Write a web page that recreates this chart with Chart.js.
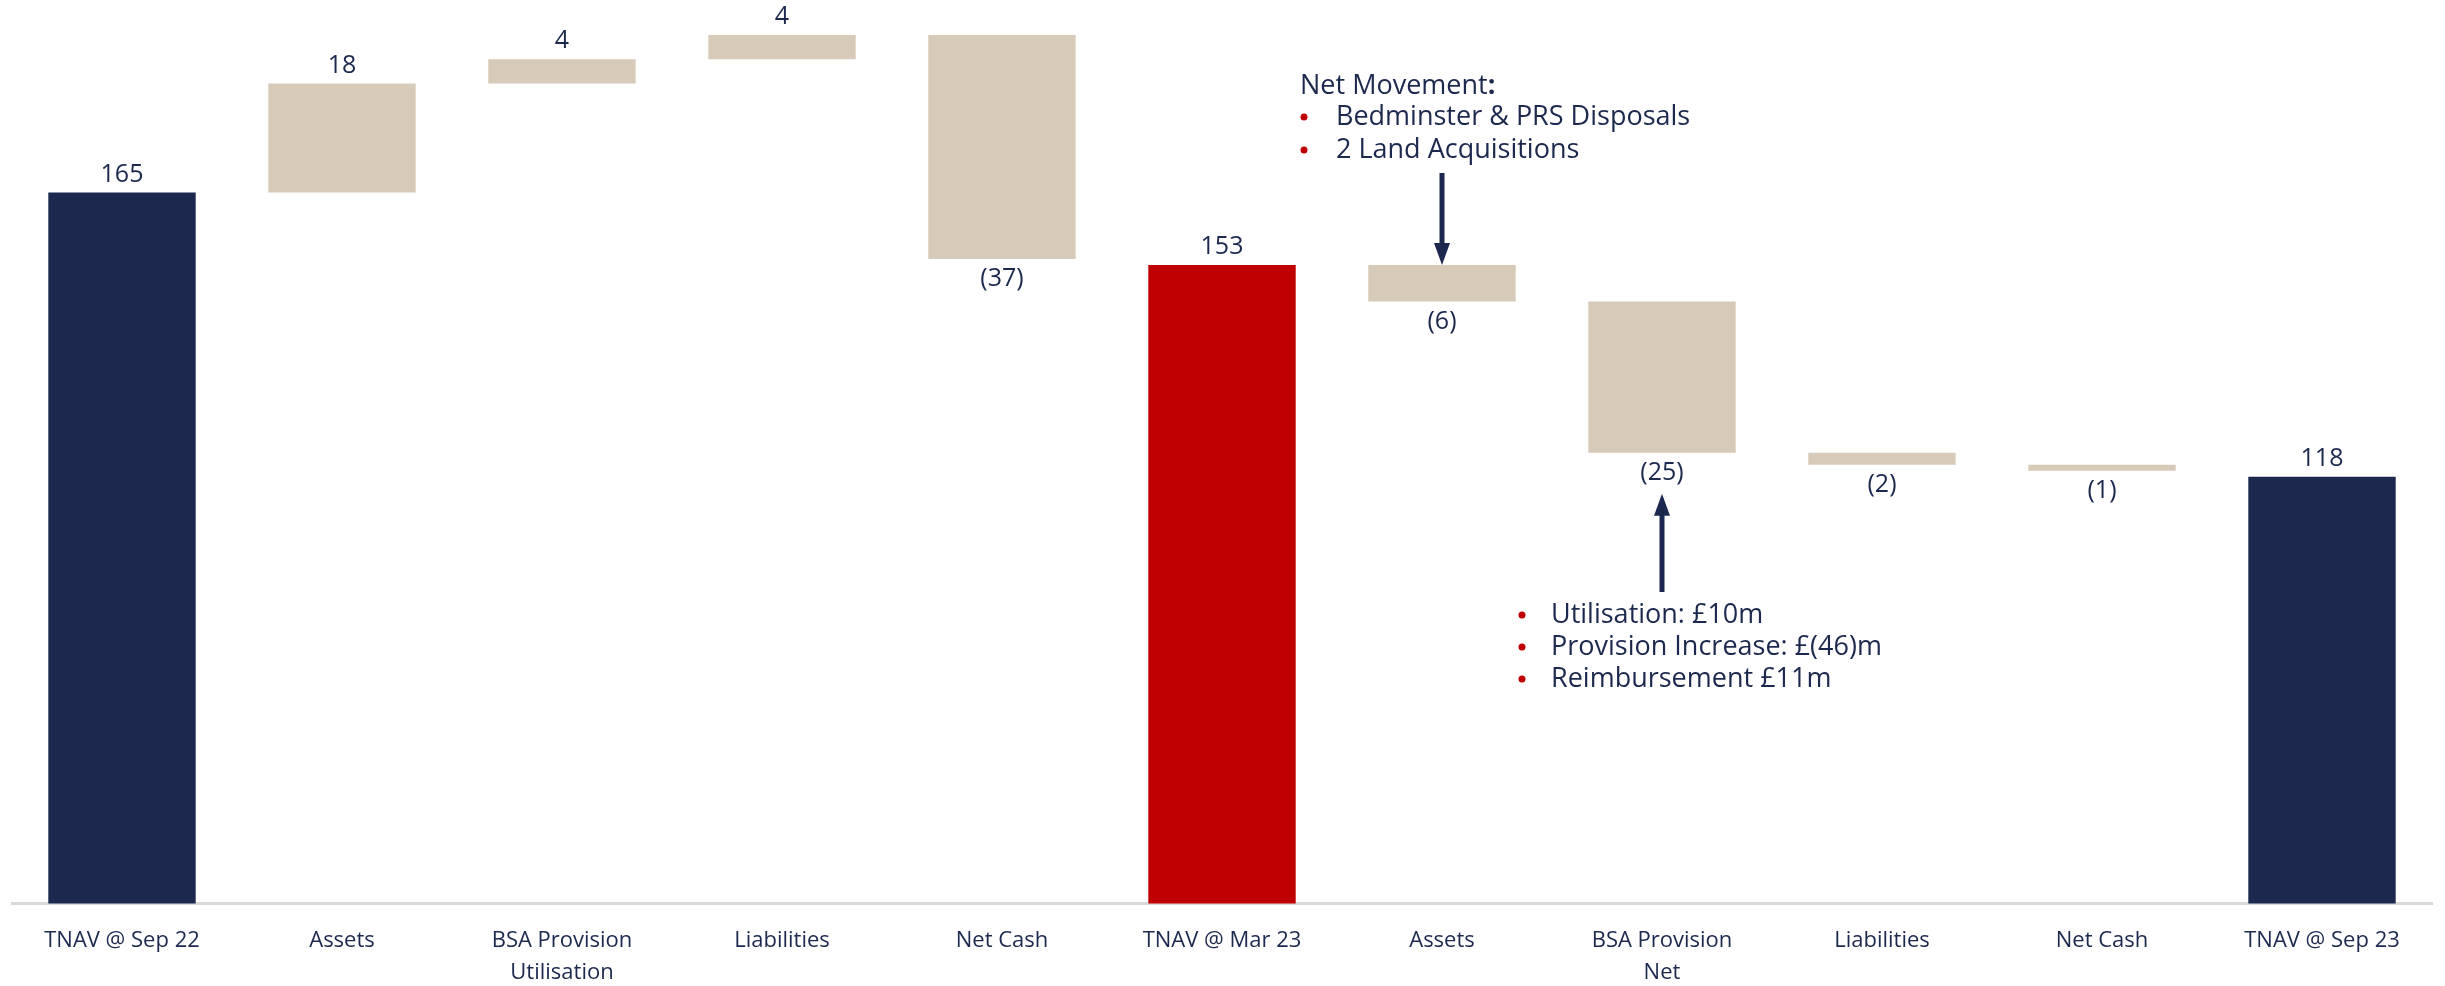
<!DOCTYPE html>
<html>
<head>
<meta charset="utf-8">
<title>TNAV bridge</title>
<script src="https://cdn.jsdelivr.net/npm/chart.js@4"></script>
<style>
  html, body { margin: 0; padding: 0; background: #ffffff; }
  #wrap { position: relative; width: 2445px; height: 986px; }
</style>
</head>
<body>
<div id="wrap"><canvas id="bridgeChart"></canvas></div>
<script>
// categories along the bridge (multi-line labels as arrays)
var categories = [
    ['TNAV @ Sep 22'], ['Assets'], ['BSA Provision', 'Utilisation'], ['Liabilities'], ['Net Cash'],
    ['TNAV @ Mar 23'], ['Assets'], ['BSA Provision', 'Net'], ['Liabilities'], ['Net Cash'],
    ['TNAV @ Sep 23']
];
// closing balances (null where the column is a movement)
var totals = [165, null, null, null, null, 153, null, null, null, null, 118];
// movements between balances (null where the column is a balance)
var movements = [null, 18, 4, 4, -37, null, -6, -25, -2, -1, null];

var upperNote = ['Bedminster & PRS Disposals', '2 Land Acquisitions'];
var lowerNote = ['Utilisation: £10m', 'Provision Increase: £(46)m', 'Reimbursement £11m'];

var NAVY = '#1c284e';
var RED = '#c00000';
var TAN = '#d8cab9';
var FONT = "'Open Sans', 'Noto Sans', sans-serif";
var Y_MIN = 47.5;

// build the floating bars from a running total
var barData = [];
var barColors = [];
var running = 0;
for (var i = 0; i < categories.length; i++) {
    if (totals[i] !== null) {
        running = totals[i];
        barData.push(totals[i]);
        barColors.push(i === 5 ? RED : NAVY);
    } else {
        var start = running;
        running = running + movements[i];
        barData.push([start, running]);
        barColors.push(TAN);
    }
}

function fmt(v) {
    return v < 0 ? '(' + Math.abs(v) + ')' : String(v);
}

function bullet(ctx, x, y) {
    ctx.fillStyle = RED;
    ctx.beginPath();
    ctx.arc(x, y, 3.5, 0, Math.PI * 2);
    ctx.fill();
    ctx.fillStyle = NAVY;
}

var bridgeLabels = {
    id: 'bridgeLabels',
    afterDatasetsDraw: function(chart) {
        var ctx = chart.ctx;
        var meta = chart.getDatasetMeta(0);
        ctx.save();
        ctx.fillStyle = NAVY;
        ctx.font = '25px ' + FONT;
        ctx.textAlign = 'center';
        ctx.textBaseline = 'middle';
        meta.data.forEach(function(bar, i) {
            var top = Math.min(bar.y, bar.base);
            var bottom = Math.max(bar.y, bar.base);
            if (totals[i] !== null) {
                ctx.fillText(fmt(totals[i]), bar.x, top - 18);
            } else if (movements[i] >= 0) {
                ctx.fillText(fmt(movements[i]), bar.x, top - 18);
            } else {
                ctx.fillText(fmt(movements[i]), bar.x, bottom + 20);
            }
        });

        // arrows pointing at the two commented movements
        var a1 = meta.data[6];
        var a2 = meta.data[7];
        ctx.strokeStyle = NAVY;
        ctx.lineWidth = 5;
        var tip1 = Math.min(a1.y, a1.base);
        ctx.beginPath();
        ctx.moveTo(a1.x, 173);
        ctx.lineTo(a1.x, tip1 - 18);
        ctx.stroke();
        ctx.beginPath();
        ctx.moveTo(a1.x, tip1);
        ctx.lineTo(a1.x - 8, tip1 - 22);
        ctx.lineTo(a1.x + 8, tip1 - 22);
        ctx.closePath();
        ctx.fill();

        var tip2 = Math.max(a2.y, a2.base) + 41;
        ctx.beginPath();
        ctx.moveTo(a2.x, 592);
        ctx.lineTo(a2.x, tip2 + 18);
        ctx.stroke();
        ctx.beginPath();
        ctx.moveTo(a2.x, tip2);
        ctx.lineTo(a2.x - 8, tip2 + 22);
        ctx.lineTo(a2.x + 8, tip2 + 22);
        ctx.closePath();
        ctx.fill();

        // notes
        ctx.textAlign = 'left';
        ctx.font = '27px ' + FONT;
        ctx.fillText('Net Movement', 1300, 86);
        var w = ctx.measureText('Net Movement').width;
        ctx.font = 'bold 27px ' + FONT;
        ctx.fillText(':', 1300 + w, 86);
        ctx.font = '27px ' + FONT;
        upperNote.forEach(function(t, k) {
            var y = 117 + k * 33;
            bullet(ctx, 1304, y);
            ctx.fillText(t, 1336, y);
        });
        lowerNote.forEach(function(t, k) {
            var y = 615 + k * 32;
            bullet(ctx, 1522, y);
            ctx.fillText(t, 1551, y);
        });
        ctx.restore();
    }
};

var ctx = document.getElementById('bridgeChart').getContext('2d');
var chart = new Chart(ctx, {
    type: 'bar',
    data: {
        labels: categories,
        datasets: [{
            data: barData,
            backgroundColor: barColors,
            borderWidth: 0,
            barPercentage: 0.67,
            categoryPercentage: 1.0
        }]
    },
    options: {
        responsive: true,
        maintainAspectRatio: false,
        animation: false,
        layout: { padding: { left: 12, right: 13, top: 0, bottom: -24 } },
        plugins: {
            legend: { display: false },
            tooltip: { enabled: false }
        },
        scales: {
            x: {
                grid: { display: false, drawTicks: false },
                border: { display: true, color: '#d9d9d9', width: 3 },
                ticks: {
                    color: NAVY,
                    padding: 22,
                    maxRotation: 0,
                    autoSkip: false,
                    font: { family: FONT, size: 22, lineHeight: 1.42 }
                }
            },
            y: {
                display: false,
                min: Y_MIN,
                max: 196.8
            }
        }
    },
    plugins: [bridgeLabels]
});
</script>
</body>
</html>
